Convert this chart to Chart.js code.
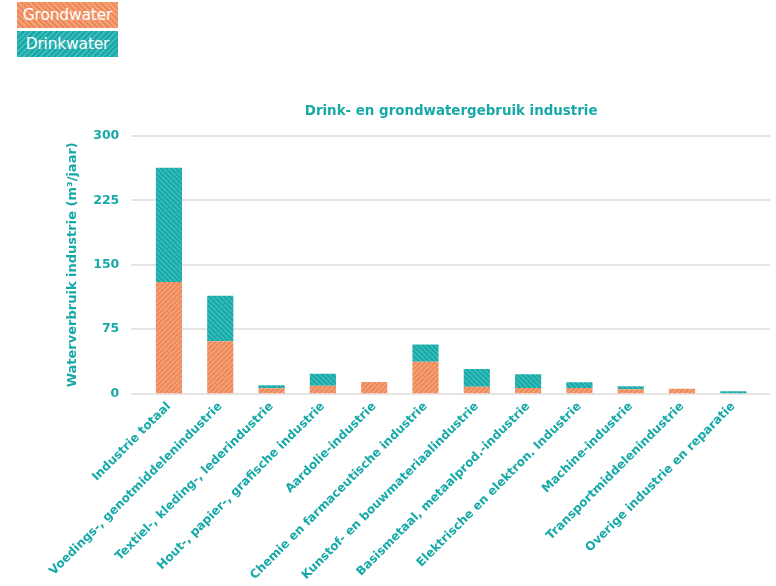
<!DOCTYPE html>
<html lang="nl">
<head>
  <meta charset="UTF-8" />
  <title>Drink- en grondwatergebruik industrie</title>
  <script src="https://cdn.jsdelivr.net/npm/chart.js"></script>
  <style>
    body {
      margin: 0;
      background: #fff;
      font-family: 'DejaVu Sans', sans-serif;
    }
    #wrap {
      position: relative;
      width: 776px;
      height: 586px;
    }
    .legend-box {
      position: absolute;
      left: 17px;
      width: 101px;
      height: 26px;
      color: #fff;
      font-size: 15.5px;
      line-height: 26px;
      text-align: center;
      letter-spacing: -0.2px;
    }
    #lgGrond {
      top: 2px;
      background: repeating-linear-gradient(45deg, #ee8756 0 2px, #f4a27a 2px 4px);
    }
    #lgDrink {
      top: 31px;
      background: repeating-linear-gradient(-45deg, #15a8a7 0 2px, #3bbab9 2px 4px);
    }
  </style>
</head>
<body>
  <div id="wrap">
    <canvas id="waterChart" width="776" height="586"></canvas>
    <div class="legend-box" id="lgGrond">Grondwater</div>
    <div class="legend-box" id="lgDrink">Drinkwater</div>
  </div>

  <script>
    const categories = [
      'Industrie totaal',
      'Voedings-, genotmiddelenindustrie',
      'Textiel-, kleding-, lederindustrie',
      'Hout-, papier-, grafische industrie',
      'Aardolie-industrie',
      'Chemie en farmaceutische industrie',
      'Kunstof- en bouwmateriaalindustrie',
      'Basismetaal, metaalprod.-industrie',
      'Elektrische en elektron. Industrie',
      'Machine-industrie',
      'Transportmiddelenindustrie',
      'Overige industrie en reparatie'
    ];
    const grondwater = [130, 61, 6, 9, 13.5, 37, 8, 6.5, 6.5, 5, 5.5, 0];
    const drinkwater = [133, 53, 3.5, 14, 0, 20, 20.5, 16, 6.5, 3.5, 0, 2.5];
    const yTicks = [0, 75, 150, 225, 300];

    const teal = '#17a9a8';
    const font = 'DejaVu Sans';

    // diagonal hatch pattern for the bars
    function stripes(base, line, up) {
      const s = 5;
      const c = document.createElement('canvas');
      c.width = s; c.height = s;
      const g = c.getContext('2d');
      g.fillStyle = base;
      g.fillRect(0, 0, s, s);
      g.strokeStyle = line;
      g.lineWidth = 1.6;
      g.beginPath();
      if (up) {
        g.moveTo(-1, s + 1); g.lineTo(s + 1, -1);
        g.moveTo(-1, 1); g.lineTo(1, -1);
        g.moveTo(s - 1, s + 1); g.lineTo(s + 1, s - 1);
      } else {
        g.moveTo(-1, -1); g.lineTo(s + 1, s + 1);
        g.moveTo(s - 1, -1); g.lineTo(s + 1, 1);
        g.moveTo(-1, s - 1); g.lineTo(1, s + 1);
      }
      g.stroke();
      return g.createPattern(c, 'repeat');
    }

    // gridlines a bit wider than the plot area, like the original
    const wideGrid = {
      id: 'wideGrid',
      beforeDatasetsDraw(chart) {
        const { ctx, chartArea, scales } = chart;
        ctx.save();
        ctx.strokeStyle = '#e8e3e3';
        ctx.lineWidth = 2;
        yTicks.forEach(v => {
          const y = Math.round(scales.y.getPixelForValue(v));
          ctx.beginPath();
          ctx.moveTo(chartArea.left - 12, y);
          ctx.lineTo(chartArea.right + 11, y);
          ctx.stroke();
        });
        ctx.restore();
      }
    };

    new Chart(document.getElementById('waterChart'), {
      type: 'bar',
      data: {
        labels: categories,
        datasets: [
          { label: 'Grondwater', data: grondwater, backgroundColor: stripes('#ee8756', '#f4a47c', true) },
          { label: 'Drinkwater', data: drinkwater, backgroundColor: stripes('#15a8a7', '#3cbbba', false) }
        ]
      },
      options: {
        responsive: false,
        animation: false,
        layout: { padding: { left: 56, right: 17, top: 0, bottom: 0 } },
        datasets: { bar: { barPercentage: 1, categoryPercentage: 0.51 } },
        plugins: {
          legend: { display: false },
          tooltip: { enabled: false },
          title: {
            display: true,
            fullSize: false,
            text: 'Drink- en grondwatergebruik industrie',
            color: teal,
            font: { family: font, size: 13.4, weight: 'bold' },
            padding: { top: 103, bottom: 17 }
          }
        },
        scales: {
          x: {
            stacked: true,
            grid: { display: false, drawTicks: false },
            border: { display: false },
            ticks: {
              color: teal,
              font: { family: font, size: 12, weight: 'bold' },
              minRotation: 45,
              maxRotation: 45,
              autoSkip: false,
              padding: 6
            },
            afterFit(scale) { scale.height = 192.5; }
          },
          y: {
            stacked: true,
            min: 0,
            max: 300,
            afterBuildTicks(scale) { scale.ticks = yTicks.map(v => ({ value: v })); },
            grid: { display: false, drawTicks: false },
            border: { display: false },
            ticks: {
              color: teal,
              font: { family: font, size: 12.5, weight: 'bold' },
              padding: 24
            },
            title: {
              display: true,
              text: 'Waterverbruik industrie (m³/jaar)',
              color: teal,
              font: { family: font, size: 13, weight: 'bold' },
              padding: 9
            },
            afterFit(scale) { scale.width = 87.3; }
          }
        }
      },
      plugins: [wideGrid]
    });
  </script>
</body>
</html>
